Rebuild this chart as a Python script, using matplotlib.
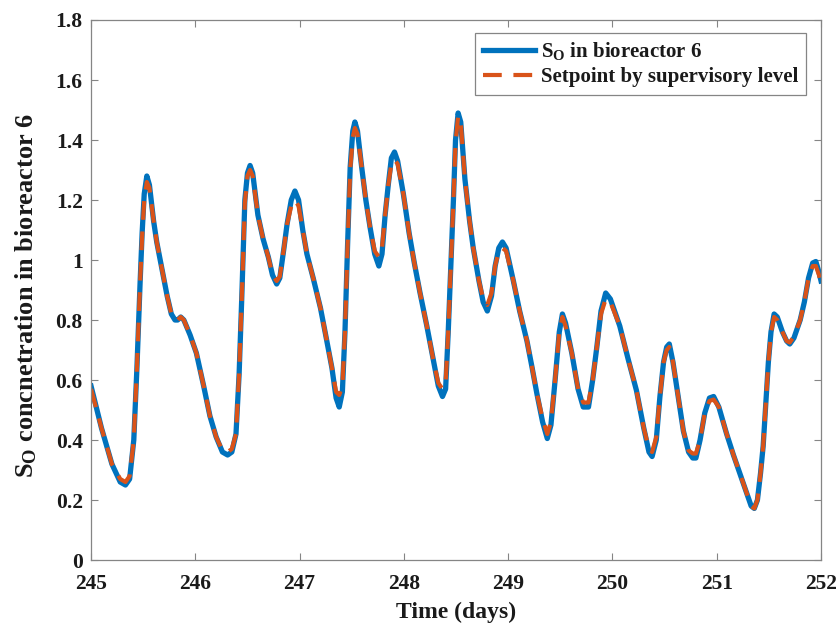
import matplotlib
matplotlib.use("Agg")
from matplotlib import pyplot as plt

plt.rcParams['font.family'] = ['Liberation Serif', 'DejaVu Serif']
plt.rcParams['font.weight'] = 'bold'
plt.rcParams['mathtext.fontset'] = 'custom'
plt.rcParams['mathtext.rm'] = 'Liberation Serif:bold'
plt.rcParams['mathtext.bf'] = 'Liberation Serif:bold'

# time (days)
time = [
    245.00, 245.10, 245.20, 245.28, 245.33, 245.37, 245.41, 245.44, 245.47, 245.49,
    245.51, 245.535, 245.56, 245.60, 245.63, 245.68, 245.73, 245.77, 245.805, 245.83,
    245.86, 245.89, 245.95, 246.01, 246.08, 246.14, 246.20, 246.26, 246.31, 246.35,
    246.39, 246.42, 246.445, 246.475, 246.50, 246.525, 246.55, 246.60, 246.65, 246.70,
    246.74, 246.78, 246.81, 246.85, 246.88, 246.92, 246.955, 246.99, 247.03, 247.07,
    247.13, 247.20, 247.25, 247.31, 247.35, 247.38, 247.41, 247.435, 247.46, 247.485,
    247.51, 247.53, 247.555, 247.595, 247.635, 247.675, 247.72, 247.76, 247.79, 247.82,
    247.85, 247.88, 247.91, 247.94, 247.995, 248.05, 248.10, 248.155, 248.22, 248.28,
    248.33, 248.37, 248.40, 248.425, 248.45, 248.475, 248.495, 248.52, 248.545, 248.585,
    248.63, 248.665, 248.72, 248.76, 248.80, 248.84, 248.875, 248.91, 248.945, 248.98,
    249.05, 249.11, 249.18, 249.23, 249.275, 249.33, 249.375, 249.41, 249.45, 249.49,
    249.52, 249.55, 249.61, 249.67, 249.72, 249.77, 249.81, 249.85, 249.89, 249.935,
    249.98, 250.07, 250.15, 250.23, 250.30, 250.35, 250.38, 250.42, 250.455, 250.49,
    250.52, 250.545, 250.58, 250.63, 250.68, 250.73, 250.77, 250.80, 250.84, 250.885,
    250.93, 250.97, 251.02, 251.095, 251.16, 251.22, 251.28, 251.33, 251.36, 251.39,
    251.42, 251.445, 251.47, 251.495, 251.52, 251.55, 251.58, 251.63, 251.67, 251.70,
    251.74, 251.80, 251.84, 251.88, 251.92, 251.95, 251.98, 252.00,
]

# S_O measured in bioreactor 6
so_actual = [
    0.58, 0.44, 0.32, 0.26, 0.25, 0.27, 0.40, 0.64, 0.92, 1.09,
    1.22, 1.28, 1.25, 1.13, 1.06, 0.97, 0.88, 0.82, 0.80, 0.80,
    0.81, 0.80, 0.75, 0.69, 0.58, 0.48, 0.41, 0.36, 0.35, 0.36,
    0.42, 0.62, 0.87, 1.20, 1.29, 1.315, 1.29, 1.15, 1.07, 1.01,
    0.95, 0.92, 0.94, 1.04, 1.12, 1.20, 1.23, 1.20, 1.10, 1.02,
    0.94, 0.84, 0.75, 0.64, 0.54, 0.51, 0.56, 0.76, 1.05, 1.31,
    1.43, 1.46, 1.43, 1.31, 1.20, 1.11, 1.02, 0.98, 1.02, 1.15,
    1.25, 1.34, 1.36, 1.33, 1.22, 1.09, 0.99, 0.89, 0.78, 0.67,
    0.58, 0.545, 0.57, 0.76, 0.98, 1.20, 1.40, 1.49, 1.46, 1.27,
    1.13, 1.04, 0.93, 0.86, 0.83, 0.88, 0.98, 1.04, 1.06, 1.04,
    0.93, 0.83, 0.73, 0.64, 0.555, 0.46, 0.405, 0.45, 0.60, 0.76,
    0.82, 0.79, 0.69, 0.57, 0.51, 0.51, 0.60, 0.71, 0.83, 0.89,
    0.87, 0.78, 0.67, 0.565, 0.44, 0.36, 0.345, 0.40, 0.545, 0.66,
    0.71, 0.72, 0.66, 0.545, 0.43, 0.36, 0.34, 0.34, 0.40, 0.49,
    0.54, 0.545, 0.51, 0.42, 0.35, 0.29, 0.23, 0.18, 0.172, 0.20,
    0.29, 0.38, 0.52, 0.66, 0.76, 0.82, 0.81, 0.76, 0.73, 0.72,
    0.74, 0.80, 0.86, 0.94, 0.99, 0.995, 0.96, 0.93,
]

# setpoint given by the supervisory level
so_setpoint = [
    0.57, 0.44, 0.32, 0.27, 0.26, 0.28, 0.40, 0.64, 0.92, 1.08,
    1.20, 1.26, 1.24, 1.13, 1.06, 0.97, 0.88, 0.82, 0.80, 0.80,
    0.81, 0.80, 0.75, 0.69, 0.58, 0.48, 0.41, 0.365, 0.36, 0.37,
    0.42, 0.62, 0.87, 1.19, 1.28, 1.30, 1.28, 1.15, 1.07, 1.01,
    0.95, 0.93, 0.945, 1.04, 1.12, 1.18, 1.20, 1.18, 1.10, 1.02,
    0.94, 0.84, 0.75, 0.64, 0.56, 0.55, 0.58, 0.76, 1.05, 1.30,
    1.41, 1.44, 1.42, 1.31, 1.20, 1.11, 1.03, 1.01, 1.04, 1.15,
    1.25, 1.32, 1.335, 1.32, 1.22, 1.09, 0.99, 0.89, 0.78, 0.67,
    0.59, 0.57, 0.59, 0.76, 0.98, 1.20, 1.39, 1.48, 1.46, 1.27,
    1.13, 1.04, 0.93, 0.87, 0.85, 0.89, 0.98, 1.03, 1.04, 1.03,
    0.93, 0.83, 0.73, 0.64, 0.555, 0.47, 0.42, 0.46, 0.60, 0.76,
    0.81, 0.78, 0.69, 0.57, 0.525, 0.525, 0.60, 0.71, 0.82, 0.87,
    0.86, 0.78, 0.67, 0.565, 0.44, 0.37, 0.36, 0.41, 0.545, 0.66,
    0.70, 0.71, 0.66, 0.545, 0.43, 0.365, 0.355, 0.355, 0.40, 0.49,
    0.53, 0.535, 0.51, 0.42, 0.35, 0.29, 0.23, 0.18, 0.172, 0.20,
    0.29, 0.38, 0.52, 0.66, 0.76, 0.81, 0.80, 0.76, 0.73, 0.725,
    0.745, 0.80, 0.86, 0.94, 0.98, 0.98, 0.95, 0.92,
]

xticks = [245, 246, 247, 248, 249, 250, 251, 252]
yticks = [0, 0.2, 0.4, 0.6, 0.8, 1.0, 1.2, 1.4, 1.6, 1.8]
ytick_labels = ['0', '0.2', '0.4', '0.6', '0.8', '1', '1.2', '1.4', '1.6', '1.8']

fig = plt.figure(figsize=(8.39, 6.23), dpi=100)
ax = fig.add_axes([0.1085, 0.1011, 0.8701, 0.8668])

ax.plot(time, so_actual, color='#0072BD', lw=3.8, solid_joinstyle='round',
        label=r'$\mathrm{S_O}$ in bioreactor 6')
ax.plot(time, so_setpoint, color='#D95319', lw=3.0, ls=(0, (4.5, 2.8)),
        label='Setpoint by supervisory level')

ax.set_xlim(245, 252)
ax.set_ylim(0, 1.8)
ax.set_xticks(xticks)
ax.set_xticklabels([str(t) for t in xticks])
ax.set_yticks(yticks)
ax.set_yticklabels(ytick_labels)

gray = '#858585'
for sp in ax.spines.values():
    sp.set_color(gray)
    sp.set_linewidth(0.9)
ax.tick_params(direction='in', top=True, right=True, length=5, width=0.8,
               color=gray, labelsize=15.5, labelcolor='#1a1a1a')
ax.tick_params(axis='x', pad=10)
ax.tick_params(axis='y', pad=6)

ax.set_xlabel('Time (days)', fontsize=17, fontweight='bold', color='#1a1a1a', labelpad=6)
ax.set_ylabel(r'$\mathrm{S_O}$ concnetration in bioreactor 6', fontsize=19,
              fontweight='bold', color='#1a1a1a')
ax.yaxis.set_label_coords(-0.071, 0.489)

leg = ax.legend(loc='upper right', bbox_to_anchor=(0.979, 0.976), borderaxespad=0,
                fontsize=15, fancybox=False, framealpha=1, edgecolor=gray,
                handlelength=2.5, handletextpad=0.3, borderpad=0.35, labelspacing=0.25)
leg.get_frame().set_linewidth(0.9)
for t in leg.get_texts():
    t.set_color('#1a1a1a')

fig.savefig('out.png', dpi=100)
